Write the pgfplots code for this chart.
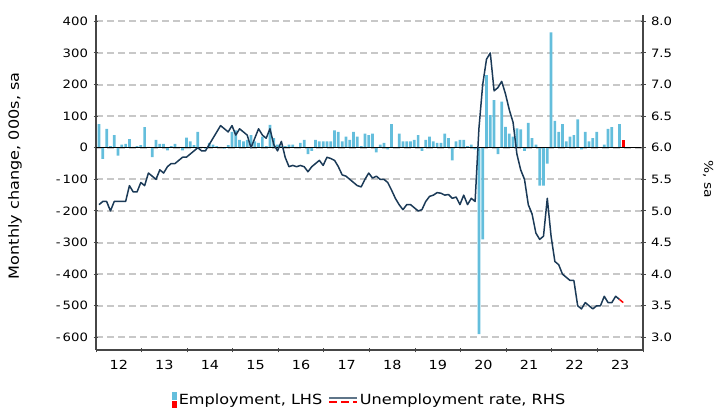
\documentclass[border=0pt]{standalone}
\usepackage{pgfplots}
\pgfplotsset{compat=1.18}
\usepackage{pgfplotstable}
\usepackage{fontspec}
\setmainfont{DejaVu Sans}[FakeStretch=1.15]
\definecolor{barblue}{RGB}{100,190,220}
\definecolor{linenavy}{RGB}{27,58,87}
\definecolor{gridgray}{RGB}{200,200,200}
\definecolor{axisgray}{RGB}{70,70,70}

\pgfplotstableread{
m emp ur
0 75 5.10
1 -35 5.15
2 60 5.15
3 5 5.00
4 40 5.15
5 -25 5.15
6 10 5.15
7 12 5.15
8 27 5.40
9 3 5.30
10 5 5.30
11 8 5.45
12 65 5.40
13 3 5.60
14 -30 5.55
15 25 5.50
16 12 5.65
17 12 5.60
18 -8 5.70
19 5 5.75
20 12 5.75
21 3 5.80
22 -8 5.85
23 32 5.85
24 20 5.90
25 8 5.95
26 50 6.00
27 3 5.95
28 -3 5.95
29 15 6.05
30 10 6.15
31 5 6.25
32 3 6.35
33 -3 6.30
34 8 6.25
35 50 6.35
36 55 6.20
37 25 6.30
38 20 6.25
39 25 6.20
40 40 6.00
41 20 6.15
42 15 6.30
43 35 6.20
44 5 6.15
45 72 6.30
46 30 6.05
47 10 5.95
48 5 6.10
49 5 5.85
50 10 5.70
51 10 5.72
52 3 5.70
53 15 5.72
54 25 5.70
55 -20 5.62
56 -10 5.70
57 25 5.75
58 20 5.80
59 20 5.72
60 20 5.85
61 20 5.83
62 55 5.80
63 50 5.70
64 20 5.57
65 35 5.55
66 25 5.50
67 50 5.45
68 35 5.40
69 5 5.38
70 45 5.50
71 40 5.60
72 45 5.52
73 -15 5.55
74 10 5.50
75 15 5.50
76 -5 5.45
77 75 5.33
78 0 5.20
79 45 5.10
80 20 5.02
81 20 5.10
82 20 5.10
83 25 5.05
84 40 5.00
85 -10 5.02
86 25 5.15
87 35 5.23
88 20 5.25
89 15 5.29
90 15 5.28
91 45 5.25
92 30 5.26
93 -40 5.20
94 20 5.22
95 25 5.10
96 25 5.25
97 5 5.10
98 10 5.20
99 -5 5.15
100 -590 6.30
101 -290 7.00
102 230 7.40
103 103 7.50
104 151 6.90
105 -20 6.95
106 146 7.05
107 66 6.85
108 45 6.60
109 35 6.40
110 61 5.90
111 58 5.65
112 -10 5.50
113 79 5.10
114 30 4.95
115 10 4.65
116 -120 4.55
117 -120 4.60
118 -50 5.20
119 365 4.60
120 85 4.20
121 50 4.15
122 75 4.00
123 20 3.95
124 35 3.90
125 40 3.90
126 90 3.50
127 -5 3.45
128 50 3.55
129 20 3.50
130 30 3.45
131 50 3.50
132 0 3.50
133 10 3.65
134 60 3.55
135 65 3.55
136 0 3.65
137 75 3.60
138 25 3.55
}\datatable

\begin{document}
\begin{tikzpicture}
\useasboundingbox (0bp,0bp) rectangle (724bp,412bp);
\begin{axis}[
  at={(96bp,62bp)}, anchor=south west,
  scale only axis, width=547bp, height=335bp,
  xmin=-0.8, xmax=143.2, ymin=-640, ymax=420,
  axis x line*=bottom, axis y line*=left,
  axis line style={-, axisgray, line width=1.6bp},
  xtick={-0.8,11.2,23.2,35.2,47.2,59.2,71.2,83.2,95.2,107.2,119.2,131.2,143.2},
  xticklabels={12,13,14,15,16,17,18,19,20,21,22,23},
  x tick label as interval,
  ytick={-600,-500,-400,-300,-200,-100,0,100,200,300,400},
  yticklabels={-\kern2bp 600,-\kern2bp 500,-\kern2bp 400,-\kern2bp 300,-\kern2bp 200,-\kern2bp 100,0,100,200,300,400},
  tick align=center, major tick length=5bp,
  tick style={axisgray, line width=1bp},
  ymajorgrids,
  grid style={gridgray, line width=2bp, dash pattern=on 7bp off 4bp},
  yticklabel style={font=\fontsize{11.5bp}{14bp}\selectfont, xshift=-2bp},
  xticklabel style={font=\fontsize{12.5bp}{14bp}\selectfont, yshift=-4bp},
  ylabel={Monthly change, 000s, sa},
  ylabel style={at={(axis description cs:-0.148,0.52)}, anchor=center, font=\fontsize{14bp}{16bp}\selectfont},
  legend style={at={(0.5,-0.149)}, anchor=center, draw=none, fill=none,
    legend columns=2, font=\fontsize{14bp}{16bp}\selectfont,
    /tikz/every even column/.append style={column sep=4bp}},
  legend cell align=left,
  clip=false,
]
\addplot[ybar, bar width=0.72, bar shift=0pt, fill=barblue, draw=none,
  restrict x to domain=-1:137.5,
  legend image code/.code={
    \fill[barblue] (0bp,0bp) rectangle (5bp,8bp);
    \fill[red] (0bp,-8bp) rectangle (5bp,-1bp);}
  ] table[x=m, y=emp] {\datatable};
\addlegendentry{Employment, LHS}
\addplot[ybar, bar width=0.72, bar shift=0pt, fill=red, draw=none, forget plot,
  restrict x to domain=137.5:139] table[x=m, y=emp] {\datatable};
\addplot[black, line width=1.3bp, forget plot] coordinates {(-0.8,0) (143.2,0)};
\addlegendimage{legend image code/.code={
    \draw[linenavy!70, line width=1.6bp] (0bp,2bp) -- (28bp,2bp);
    \draw[red, line width=1.6bp, dash pattern=on 8bp off 4bp] (0bp,-2bp) -- (28bp,-2bp);}}
\addlegendentry{Unemployment rate, RHS}
\end{axis}
\begin{axis}[
  at={(96bp,62bp)}, anchor=south west,
  scale only axis, width=547bp, height=335bp,
  xmin=-0.8, xmax=143.2, ymin=2.8, ymax=8.1,
  axis y line*=right, axis x line=none,
  axis line style={-, axisgray, line width=1.6bp},
  ytick={3,3.5,4,4.5,5,5.5,6,6.5,7,7.5,8},
  yticklabels={3.0,3.5,4.0,4.5,5.0,5.5,6.0,6.5,7.0,7.5,8.0},
  tick align=center, major tick length=5bp,
  tick style={axisgray, line width=1bp},
  yticklabel style={font=\fontsize{11.5bp}{14bp}\selectfont, xshift=2bp},
  ylabel={\%, sa},
  ylabel style={at={(axis description cs:1.119,0.51)}, anchor=center, rotate=180, font=\fontsize{12bp}{14bp}\selectfont},
]
\addplot[linenavy, line width=1.5bp, line join=round, restrict x to domain=-1:137.2] table[x=m, y=ur] {\datatable};
\addplot[red, line width=1.5bp, restrict x to domain=136.8:139] table[x=m, y=ur] {\datatable};
\end{axis}
\end{tikzpicture}
\end{document}
